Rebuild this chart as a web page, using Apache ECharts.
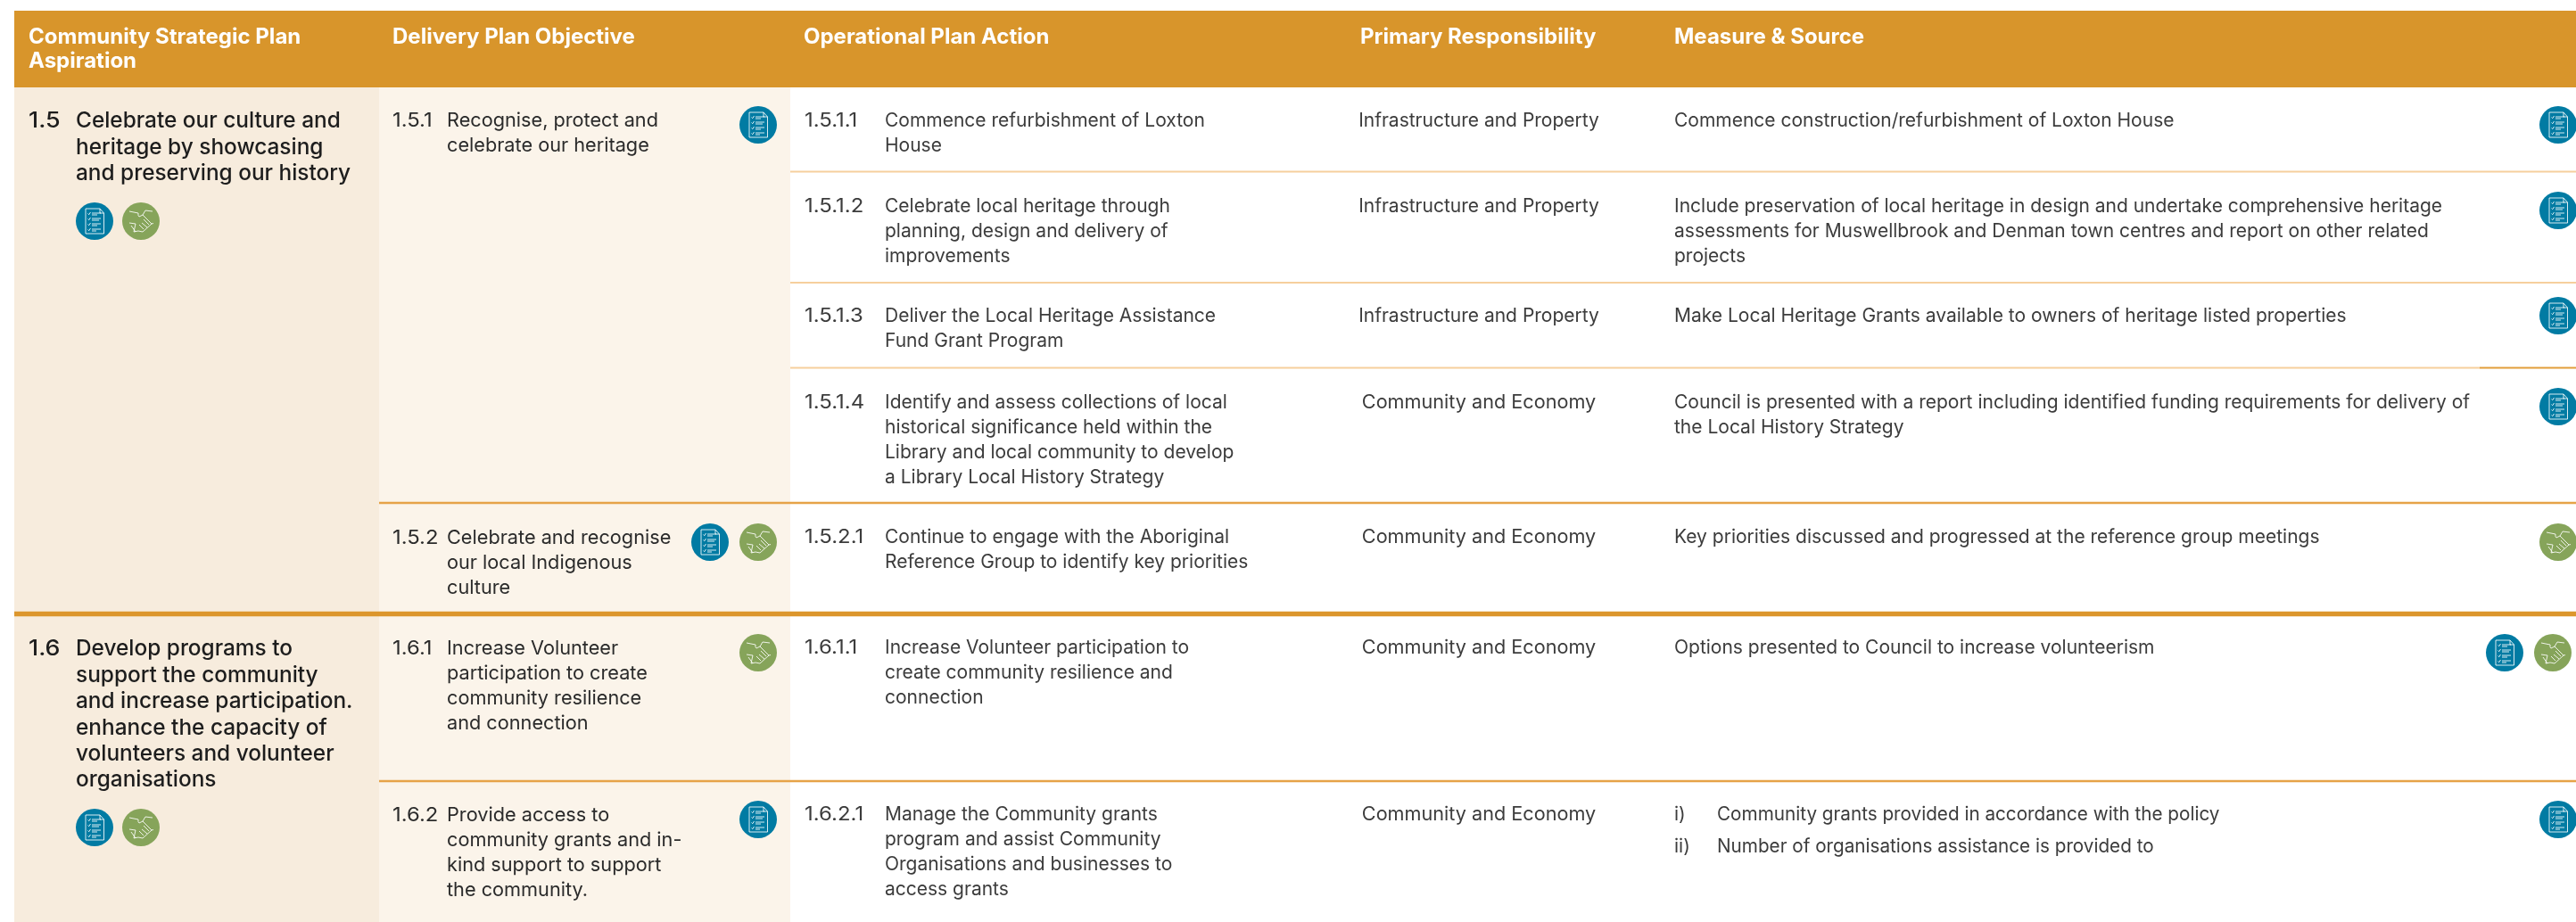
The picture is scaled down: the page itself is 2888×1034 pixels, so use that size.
<!DOCTYPE html>
<html>
<head>
<meta charset="utf-8">
<style>html,body{margin:0;padding:0;background:#fff}#c{width:2888px;height:1034px}</style>
<script src="https://cdn.jsdelivr.net/npm/echarts@6/dist/echarts.min.js"></script>
</head>
<body>
<div id="c"></div>
<script>
// ---- content ----
const headers = [
  ['Community Strategic Plan', 'Aspiration'],
  ['Delivery Plan Objective'],
  ['Operational Plan Action'],
  ['Primary Responsibility'],
  ['Measure & Source']
];
const aspirationNumbers = ['1.5', '1.6'];
const aspirationLines = [
  ['Celebrate our culture and', 'heritage by showcasing', 'and preserving our history'],
  ['Develop programs to', 'support the community', 'and increase participation.', 'enhance the capacity of', 'volunteers and volunteer', 'organisations']
];
const objectiveNumbers = ['1.5.1', '1.5.2', '1.6.1', '1.6.2'];
const objectiveLines = [
  ['Recognise, protect and', 'celebrate our heritage'],
  ['Celebrate and recognise', 'our local Indigenous', 'culture'],
  ['Increase Volunteer', 'participation to create', 'community resilience', 'and connection'],
  ['Provide access to', 'community grants and in-', 'kind support to support', 'the community.']
];
const actionNumbers = ['1.5.1.1', '1.5.1.2', '1.5.1.3', '1.5.1.4', '1.5.2.1', '1.6.1.1', '1.6.2.1'];
const actionLines = [
  ['Commence refurbishment of Loxton', 'House'],
  ['Celebrate local heritage through', 'planning, design and delivery of', 'improvements'],
  ['Deliver the Local Heritage Assistance', 'Fund Grant Program'],
  ['Identify and assess collections of local', 'historical significance held within the', 'Library and local community to develop', 'a Library Local History Strategy'],
  ['Continue to engage with the Aboriginal', 'Reference Group to identify key priorities'],
  ['Increase Volunteer participation to', 'create community resilience and', 'connection'],
  ['Manage the Community grants', 'program and assist Community', 'Organisations and businesses to', 'access grants']
];
const responsibilities = [
  'Infrastructure and Property', 'Infrastructure and Property', 'Infrastructure and Property',
  'Community and Economy', 'Community and Economy', 'Community and Economy', 'Community and Economy'
];
const measureLines = [
  ['Commence construction/refurbishment of Loxton House'],
  ['Include preservation of local heritage in design and undertake comprehensive heritage', 'assessments for Muswellbrook and Denman town centres and report on other related', 'projects'],
  ['Make Local Heritage Grants available to owners of heritage listed properties'],
  ['Council is presented with a report including identified funding requirements for delivery of', 'the Local History Strategy'],
  ['Key priorities discussed and progressed at the reference group meetings'],
  ['Options presented to Council to increase volunteerism'],
  []
];
const measureListMarks = ['i)', 'ii)'];
const measureListItems = ['Community grants provided in accordance with the policy', 'Number of organisations assistance is provided to'];
const aspirationIcons = [['doc', 'hands'], ['doc', 'hands']];
const objectiveIcons = [['doc'], ['doc', 'hands'], ['hands'], ['doc']];
const measureIcons = [['doc'], ['doc'], ['doc'], ['doc'], ['hands'], ['doc', 'hands'], ['doc']];

// ---- layout (canvas pixels on the hidden axes) ----
const W = 2888, H = 1034;
const L = {
  colX: [16, 425, 886], hdrTop: 12, hdrBottom: 98,
  hdrX: [32, 440, 901, 1525, 1877], hdrY: [42, 69],
  aspY: [136, 728], aspStep: 29.4, aspNumX: 32, aspTextX: 85, aspIconX: [106, 158], aspIconY: [248, 928],
  objY: [135.5, 603, 727, 914], objStep: 28, objNumX: 440, objTextX: 501, objIconRight: 850, objIconY: [140, 608, 732, 919],
  actY: [135.5, 231.5, 354.5, 451.5, 602.5, 726.5, 914], actStep: 28, actNumX: 902, actTextX: 992,
  respX: 1658, measX: 1877, measListX: 1925, measListY: [913.5, 949.5],
  measIconRight: [2868, 2868, 2868, 2868, 2868, 2862, 2868], measIconY: [140, 236, 354, 456, 608, 732, 919],
  iconGap: 54, iconR: 21
};
const rules = [
  [886, 2888, 192.5, 2, '#F6CF9D'], [886, 2888, 317, 2, '#F6CF9D'], [886, 2780, 412.5, 2, '#F6CF9D'],
  [2780, 2888, 412.5, 2, '#E29E3A'], [425, 2888, 564, 2.4, '#E6A348'], [16, 2888, 688.5, 5.5, '#DC962C'], [425, 2888, 876, 2.4, '#E6A348']
];
const BLUE = '#017BA3', GREEN = '#86A45A', FF = 'Inter';
const DARK = '#1d1d1d', OBJ = '#2b2b2b', BODY = '#3c3c3c';
const NUM_SCALE = 1.14, COMMUNITY_SCALE = 1.03, LIST_SCALE = 0.985;

// ---- flatten into series data ----
const texts = [];
function T(s, x, y, font, fill, scale, align) { texts.push({s, x, y, font, fill, scale: scale || 1, align: align || 'left'}); }
const fHead = 'bold 24px ' + FF, fAsp = '500 24.4px ' + FF, fObj = '21.7px ' + FF, fBody = '21px ' + FF;
headers.forEach((h, i) => h.forEach((s, j) => T(s, L.hdrX[i], L.hdrY[j], fHead, '#fff')));
aspirationNumbers.forEach((n, i) => {
  T(n, L.aspNumX, L.aspY[i], fAsp, DARK, 1.1);
  aspirationLines[i].forEach((s, j) => T(s, L.aspTextX, L.aspY[i] + j * L.aspStep, fAsp, DARK));
});
objectiveNumbers.forEach((n, i) => {
  T(n, L.objNumX, L.objY[i], fObj, OBJ, 1.1);
  objectiveLines[i].forEach((s, j) => T(s, L.objTextX, L.objY[i] + j * L.objStep, fObj, OBJ));
});
actionNumbers.forEach((n, i) => {
  T(n, L.actNumX, L.actY[i], fBody, BODY, NUM_SCALE);
  actionLines[i].forEach((s, j) => T(s, L.actTextX, L.actY[i] + j * L.actStep, fBody, BODY));
  T(responsibilities[i], L.respX, L.actY[i], fBody, BODY, responsibilities[i][0] === 'C' ? COMMUNITY_SCALE : 1, 'center');
  measureLines[i].forEach((s, j) => T(s, L.measX, L.actY[i] + j * L.actStep, fBody, BODY));
});
measureListMarks.forEach((m, i) => {
  T(m, L.measX, L.measListY[i], fBody, BODY);
  T(measureListItems[i], L.measListX, L.measListY[i], fBody, BODY, LIST_SCALE);
});

const icons = [];
function placeRight(list, right, y) {
  list.forEach((k, i) => icons.push({k, x: right - (list.length - 1 - i) * L.iconGap, y}));
}
aspirationIcons.forEach((list, i) => list.forEach((k, j) => icons.push({k, x: L.aspIconX[j], y: L.aspIconY[i]})));
objectiveIcons.forEach((list, i) => placeRight(list, L.objIconRight, L.objIconY[i]));
measureIcons.forEach((list, i) => placeRight(list, L.measIconRight[i], L.measIconY[i]));

const docPath = 'M-10 -14 L6 -14 L10.5 -9 L10.5 14 L-10 14 Z M6 -14 L6 -9 L10.5 -9 ' +
  'M-7.5 -8.5 L-6.3 -7.3 L-4.5 -10 M-3 -9 L7 -9 M-3 -7 L3 -7 ' +
  'M-7.5 -2.5 L-6.3 -1.3 L-4.5 -4 M-3 -3 L7 -3 M-3 -1 L5 -1 ' +
  'M-7.5 3.5 L-6.3 4.7 L-4.5 2 M-3 3 L7 3 M-3 5 L3 5 ' +
  'M-7.5 9.5 L-6.3 10.7 L-4.5 8 M-3 9 L7 9 M-3 11 L2 11';
const handPath = 'M-13 -11 L-3 -9 Q-3.5 -6 -2 -5 L2 -7 L5 -12 L13 -11 ' +
  'M2 -7 L12 3 L14 2.5 M-13 2 L-6 3 L-8 12 L-3 11 L2 12 L12 3 ' +
  'M-2 4 L3 9 M1 2 L7 7 M3 -2 L9 4 M-11 5 L-6 12';

const option = {
  animation: false,
  backgroundColor: '#ffffff',
  grid: {left: 0, right: 0, top: 0, bottom: 0},
  xAxis: {type: 'value', min: 0, max: W, show: false},
  yAxis: {type: 'value', min: 0, max: H, inverse: true, show: false},
  series: [
    {
      type: 'custom', coordinateSystem: 'cartesian2d', silent: true, clip: false, z: 1,
      data: [[0], [1], [2]],
      renderItem(p, api) {
        const i = api.value(0);
        const bands = [
          [L.colX[0], L.colX[1], L.hdrBottom, H, '#F7ECDD'],
          [L.colX[1], L.colX[2], L.hdrBottom, H, '#FBF4EA'],
          [L.colX[0], W, L.hdrTop, L.hdrBottom, '#D8952B']
        ][i];
        const a = api.coord([bands[0], bands[2]]), b = api.coord([bands[1], bands[3]]);
        return {type: 'rect', shape: {x: a[0], y: a[1], width: b[0] - a[0], height: b[1] - a[1]}, style: {fill: bands[4]}};
      }
    },
    {
      type: 'custom', coordinateSystem: 'cartesian2d', silent: true, clip: false, z: 2,
      data: rules.map((r, i) => [i]),
      renderItem(p, api) {
        const r = rules[api.value(0)];
        const a = api.coord([r[0], r[2] - r[3] / 2]), b = api.coord([r[1], r[2] + r[3] / 2]);
        return {type: 'rect', shape: {x: a[0], y: a[1], width: b[0] - a[0], height: b[1] - a[1]}, style: {fill: r[4]}};
      }
    },
    {
      type: 'custom', coordinateSystem: 'cartesian2d', silent: true, clip: false, z: 3,
      data: icons.map((r, i) => [i]),
      renderItem(p, api) {
        const ic = icons[api.value(0)];
        const c = api.coord([ic.x, ic.y]);
        return {type: 'group', x: c[0], y: c[1], children: [
          {type: 'circle', shape: {cx: 0, cy: 0, r: L.iconR}, style: {fill: ic.k === 'doc' ? BLUE : GREEN}},
          {type: 'path', shape: {pathData: ic.k === 'doc' ? docPath : handPath, layout: 'none'},
           style: {fill: 'none', stroke: 'rgba(255,255,255,0.85)', lineWidth: 1}}
        ]};
      }
    },
    {
      type: 'custom', coordinateSystem: 'cartesian2d', silent: true, clip: false, z: 4,
      data: texts.map((t, i) => [i]),
      renderItem(p, api) {
        const t = texts[api.value(0)];
        const c = api.coord([t.x, t.y]);
        return {type: 'text', x: c[0], y: c[1], scaleX: t.scale,
          style: {x: 0, y: 0, text: t.s, font: t.font, fill: t.fill, align: t.align, verticalAlign: 'middle'}};
      }
    }
  ]
};
const chart = echarts.init(document.getElementById('c'), null, {renderer: 'canvas', width: W, height: H});
chart.setOption(option);
</script>
</body>
</html>
